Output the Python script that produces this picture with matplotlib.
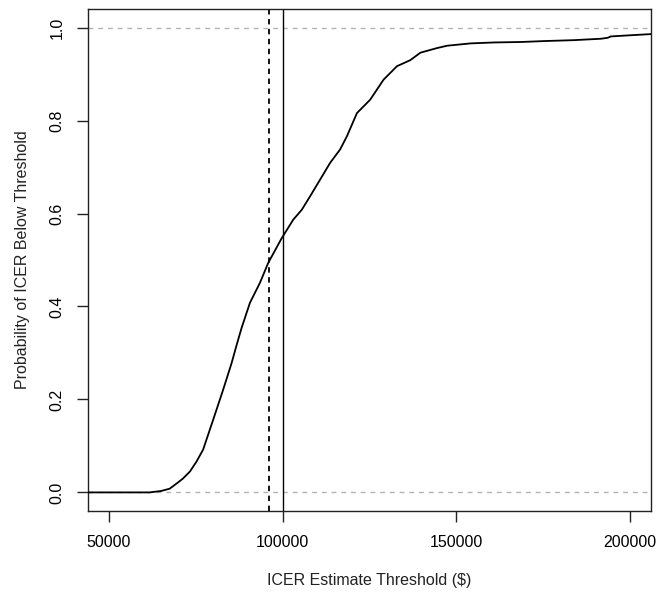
import matplotlib
matplotlib.use("Agg")
import matplotlib.pyplot as plt

plt.rcParams['font.family'] = ['Liberation Sans', 'DejaVu Sans']

# ECDF curve (threshold $, probability)
thresholds = [44000, 55000, 61700, 65000, 67500, 70000, 71350, 73340, 75200, 77120,
              80000, 82890, 85310, 86800, 88200, 90600, 93480, 95870, 99740,
              103080, 105510, 107900, 110790, 113670, 116560, 118490, 121380,
              125210, 129050, 132910, 136750, 139640, 144450, 147340, 154060,
              160780, 168490, 175210, 183870, 191570, 193500, 194450, 201180,
              206000]
probs = [0.0, 0.0, 0.0, 0.003, 0.008, 0.022, 0.030, 0.045, 0.066, 0.092,
         0.156, 0.221, 0.278, 0.318, 0.354, 0.408, 0.451, 0.494, 0.547,
         0.587, 0.608, 0.637, 0.673, 0.709, 0.738, 0.766, 0.816,
         0.845, 0.888, 0.917, 0.930, 0.946, 0.956, 0.961, 0.966,
         0.968, 0.969, 0.971, 0.973, 0.976, 0.978, 0.981, 0.984,
         0.986]

ref_lines = [0.0, 1.0]
dashed_threshold = 96160
solid_threshold = 100000
xticks = [50000, 100000, 150000, 200000]
yticks = [0.0, 0.2, 0.4, 0.6, 0.8, 1.0]

fig = plt.figure(figsize=(6.58, 5.92), dpi=100)
ax = fig.add_axes([88/658, 1-511/592, (651-88)/658, (511-9)/592])

for yv in ref_lines:
    ax.axhline(yv, color='#b3b3b3', lw=1.0, dashes=(3.5, 3.5), zorder=1)

ax.plot(thresholds, probs, color='black', lw=1.3, zorder=3)
ax.axvline(dashed_threshold, color='black', lw=1.3, dashes=(3, 2.5), zorder=2)
ax.axvline(solid_threshold, color='black', lw=1.0, zorder=2)

ax.set_xlim(44000, 206000)
ax.set_ylim(-0.04, 1.04)
ax.set_xticks(xticks)
ax.set_xticklabels([str(v) for v in xticks], fontsize=11.5)
ax.set_yticks(yticks)
ax.set_yticklabels([f"{v:.1f}" for v in yticks], fontsize=11.5, rotation=90, va='center')
ax.tick_params(axis='both', length=8, width=1.0, color='#222222', pad=9)
for s in ax.spines.values():
    s.set_linewidth(1.0)
    s.set_color('#222222')

ax.set_xlabel("ICER Estimate Threshold ($)", fontsize=11.5, labelpad=17, color='#222222')
ax.set_ylabel("Probability of ICER Below Threshold", fontsize=11.5, labelpad=14, color='#222222')

fig.savefig("out.png", dpi=100)
